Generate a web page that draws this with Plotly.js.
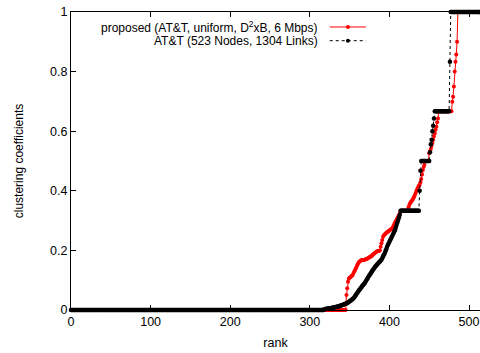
<!DOCTYPE html>
<html>
<head>
<meta charset="utf-8">
<script src="https://cdn.plot.ly/plotly-3.0.1.min.js"></script>
<style>html,body{margin:0;padding:0;background:#fff;}#chart{width:480px;height:353px;}</style>
</head>
<body>
<div id="chart"></div>
<script>
// ---- data (sorted clustering coefficients per rank) ----
const xTicks = [0, 100, 200, 300, 400, 500];
const yTicks = [0, 0.2, 0.4, 0.6, 0.8, 1];
const seriesNames = ["proposed (AT&T, uniform, D<sup>2</sup>xB, 6 Mbps)", "AT&T (523 Nodes, 1304 Links)"];

// AT&T (black) pieces
const attZeros = 318;
const attRamp1 = [0.002,0.003,0.003,0.004,0.004,0.005,0.005,0.006,0.006,0.007,0.007,
  0.008,0.008,0.009,0.010,0.010,0.011,0.012,0.012,0.013,
  0.014,0.015,0.016,0.017,0.018,0.019,0.020,0.021,
  0.022,0.024,0.025,0.027,0.029,0.031,0.033,0.035,
  0.037,0.040,0.043,0.047,0.051,0.055,0.059,0.063,
  0.067,0.070,0.074,0.077,0.081,0.084,0.087,
  0.091,0.095,0.100,0.104,0.108,0.113,
  0.117,0.121,0.125,0.129,0.134,0.137,0.141,0.145,0.148,
  0.151,0.154,0.157,0.160,0.163,0.166,
  0.169,0.174,0.180,0.185,
  0.190,0.197,0.204,0.211,
  0.218,0.223,0.229,0.235,
  0.240,0.246,0.252,0.257,0.263,
  0.268,0.276,0.285,0.294,
  0.302,0.310,0.320];
const attThirdRun = 24;
const attStep1 = [0.400, 0.467];
const attHalfRun = 11;
const attRamp2 = [0.529, 0.556, 0.571, 0.600, 0.618, 0.643];
const attTwoThirdRun = 19;
const attStep2 = [0.833];
const attOneRun = 46;

// proposed (red) pieces
const propZeros = 346;
const propRamp1 = [0.050,0.073,0.095,0.105,
  0.108,0.110,0.113,0.115,
  0.118,0.124,0.130,0.135,
  0.140,0.147,0.153,0.158,
  0.162,0.164,0.166,0.167,0.167,
  0.168,0.168,0.169,0.170,0.171,0.172,
  0.174,0.176,0.177,0.178,
  0.180,0.182,0.185,0.188,
  0.190,0.192,0.194,0.196,0.197,0.198,0.199,
  0.200,0.212,0.224,0.235,
  0.246,0.250,0.253,0.256,0.259,0.261,
  0.263,0.265,0.267,0.269,0.271,0.273,
  0.276,0.282,0.288,
  0.293,0.298,0.303,0.308,
  0.313,0.318,0.324];
const propThirdRun = 10;
const propRamp2 = [0.345,0.352,0.358,0.362,0.366,0.369,0.375,0.380,
  0.386,0.393,0.400,0.406,0.412,0.417,
  0.420,0.429,0.440,0.455,0.470,0.480,0.487];
const propHalfRun = 5;
const propRamp3 = [0.526,0.533,0.540,0.550,0.560,0.571,0.583,
  0.593,0.605,0.615,0.630,0.643];
const propTwoThirdRun = 17;
const propRamp4 = [0.699,0.716,0.750,0.800,0.833,0.857,0.900];
const propOneRun = 37;

function rep(v, n) { const a = []; for (let i = 0; i < n; i++) a.push(v); return a; }

const attY = [].concat(rep(0, attZeros), attRamp1, rep(1/3, attThirdRun), attStep1,
  rep(0.5, attHalfRun), attRamp2, rep(2/3, attTwoThirdRun), attStep2, rep(1, attOneRun));
const propY = [].concat(rep(0, propZeros), propRamp1, rep(1/3, propThirdRun), propRamp2,
  rep(0.5, propHalfRun), propRamp3, rep(2/3, propTwoThirdRun), propRamp4, rep(1, propOneRun));
const attX = attY.map((_, i) => i);
const propX = propY.map((_, i) => i);

const FONT = "Liberation Sans, Arial, Helvetica, sans-serif";

const traces = [
  { x: propX, y: propY, type: "scatter", mode: "lines+markers", name: seriesNames[0],
    line: { color: "#ff0000", width: 1 }, marker: { color: "#ff0000", size: 4 }, cliponaxis: false },
  { x: attX, y: attY, type: "scatter", mode: "lines+markers", name: seriesNames[1],
    line: { color: "#000000", width: 1, dash: "dot" }, marker: { color: "#000000", size: 4.5 }, cliponaxis: false }
];

// legend drawn gnuplot-style: right-aligned text, sample to the right
const legTextX = 313, legSample = [325, 370.5], legDotX = 347.9, legY = [0.9497, 0.9037];
const legColors = ["#ff0000", "#000000"], legDash = ["solid", "dot"];
const annotations = seriesNames.map((t, i) => ({
  x: legTextX, y: legY[i], xref: "x", yref: "y", text: t, showarrow: false,
  xanchor: "right", yanchor: "middle", font: { family: FONT, size: 12, color: "#000" }
}));
const shapes = [];
seriesNames.forEach((t, i) => {
  shapes.push({ type: "line", xref: "x", yref: "y", x0: legSample[0], x1: legSample[1], y0: legY[i], y1: legY[i],
    line: { color: legColors[i], width: 1, dash: legDash[i] } });
  shapes.push({ type: "circle", xref: "x", yref: "y", xsizemode: "pixel", ysizemode: "pixel",
    xanchor: legDotX, yanchor: legY[i], x0: -2, x1: 2, y0: -2, y1: 2,
    fillcolor: legColors[i], line: { color: legColors[i], width: 0 } });
});

const layout = {
  width: 480, height: 353,
  margin: { l: 71, r: 0, t: 12, b: 43, pad: 0 },
  paper_bgcolor: "#fff", plot_bgcolor: "#fff",
  showlegend: false,
  font: { family: FONT, size: 12, color: "#000" },
  xaxis: {
    range: [0, 513.8], tickvals: xTicks, ticktext: xTicks.map(String),
    showgrid: false, zeroline: false, showline: true, linecolor: "#000", linewidth: 1,
    mirror: "ticks", ticks: "inside", ticklen: 5, tickcolor: "#000",
    tickfont: { family: FONT, size: 12.5 },
    title: { text: "rank", font: { family: FONT, size: 12.5 }, standoff: 10 }
  },
  yaxis: {
    range: [0, 1], tickvals: yTicks, ticktext: yTicks.map(String),
    showgrid: false, zeroline: false, showline: true, linecolor: "#000", linewidth: 1,
    mirror: false, ticks: "inside", ticklen: 5, tickcolor: "#000",
    tickfont: { family: FONT, size: 12.5 },
    title: { text: "clustering coefficients", font: { family: FONT, size: 12 }, standoff: 23 }
  },
  annotations: annotations,
  shapes: shapes
};

Plotly.newPlot("chart", traces, layout, { displayModeBar: false, staticPlot: true });
</script>
</body>
</html>
